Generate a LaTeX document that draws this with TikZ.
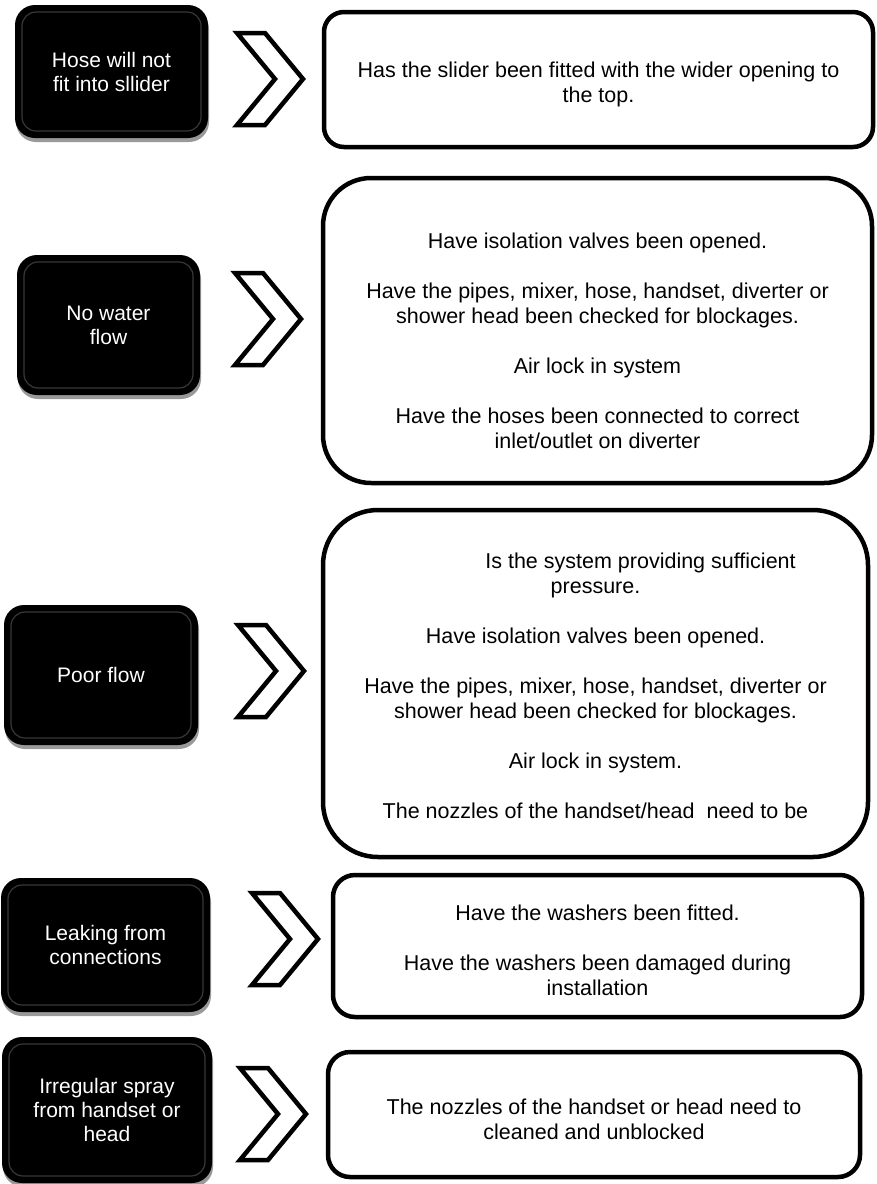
\documentclass[tikz,border=0pt]{standalone}
\usepackage{fontspec}
\setmainfont{Liberation Sans}
\usetikzlibrary{shadows}

\newcommand{\chevron}[2]{\draw [chev] (#1, #2) -- ++(28, 0) -- ++(38, 46) -- ++(-38, 46) -- ++(-28, 0) -- ++(38, -46) -- cycle;}

\begin{document}
\begin{tikzpicture}[x = 1pt, y = -1pt,
    prob/.style = {fill = black, text = white, rounded corners = 20pt, align = center, inner sep = 0pt, outer sep = 0pt,
        anchor = north west, font = \fontsize{21}{24}\selectfont,
        drop shadow = {shadow xshift = 1pt, shadow yshift = -4pt, opacity = 0.4, fill = black},
        path picture = {\draw [color = black!78, line width = 1.2pt, rounded corners = 14pt]
            ([xshift = 7pt, yshift = -7pt]path picture bounding box.north west) rectangle
            ([xshift = -7pt, yshift = 7pt]path picture bounding box.south east);}},
    fix/.style = {draw = black, line width = 4.5pt, fill = white, inner sep = 0pt, outer sep = 0pt, anchor = north west},
    fixtext/.style = {align = center, inner sep = 0pt, font = \fontsize{21.5}{25}\selectfont},
    chev/.style = {draw = black, line width = 4.5pt, fill = white, line join = miter}]
    \useasboundingbox [fill = white] (0, 0) rectangle (876, 1184);

    % problems
    \node [prob, minimum width = 193pt, minimum height = 133pt] (p1) at (15, 5) {Hose will not\\fit into sllider};
    \node [prob, minimum width = 183pt, minimum height = 140pt] (p2) at (17, 255) {No water\\flow};
    \node [prob, minimum width = 194pt, minimum height = 140pt] (p3) at (4, 605) {Poor flow};
    \node [prob, minimum width = 209pt, minimum height = 134pt] (p4) at (1, 878) {Leaking from\\connections};
    \node [prob, minimum width = 210pt, minimum height = 146pt] (p5) at (2, 1037) {Irregular spray\\from handset or\\head};

    % arrows
    \chevron{237}{33}
    \chevron{235}{273}
    \chevron{238}{625}
    \chevron{252}{893}
    \chevron{240}{1068}

    % fixes
    \node [fix, rounded corners = 20pt, minimum width = 549pt, minimum height = 135pt] (a1) at (324, 12) {};
    \node [fix, rounded corners = 48pt, minimum width = 549pt, minimum height = 305pt] (a2) at (323, 178) {};
    \node [fix, rounded corners = 55pt, minimum width = 545pt, minimum height = 347pt] (a3) at (323, 510) {};
    \node [fix, rounded corners = 22pt, minimum width = 529pt, minimum height = 142pt] (a4) at (333, 875) {};
    \node [fix, rounded corners = 22pt, minimum width = 532pt, minimum height = 125pt] (a5) at (328, 1052) {};

    \node [fixtext] (t1) at ([yshift = -5pt]a1.center) {Has the slider been fitted with the wider opening to\\the top.};
    \node [fixtext] (t2) at ([yshift = -10pt]a2.center) {Have isolation valves been opened.\\[25pt]
        Have the pipes, mixer, hose, handset, diverter or\\shower head been checked for blockages.\\[25pt]
        Air lock in system\\[25pt]
        Have the hoses been connected to correct\\inlet/outlet on diverter};
    \node [fixtext] (t3) at ([yshift = -2pt]a3.center) {\hspace*{90pt}Is the system providing sufficient\\pressure.\\[25pt]
        Have isolation valves been opened.\\[25pt]
        Have the pipes, mixer, hose, handset, diverter or\\shower head been checked for blockages.\\[25pt]
        Air lock in system.\\[25pt]
        The nozzles of the handset/head\ \ need to be};
    \node [fixtext] (t4) at ([yshift = -4pt]a4.center) {Have the washers been fitted.\\[25pt]
        Have the washers been damaged during\\installation};
    \node [fixtext] (t5) at ([yshift = -5pt]a5.center) {The nozzles of the handset or head need to\\cleaned and unblocked};
\end{tikzpicture}
\end{document}
